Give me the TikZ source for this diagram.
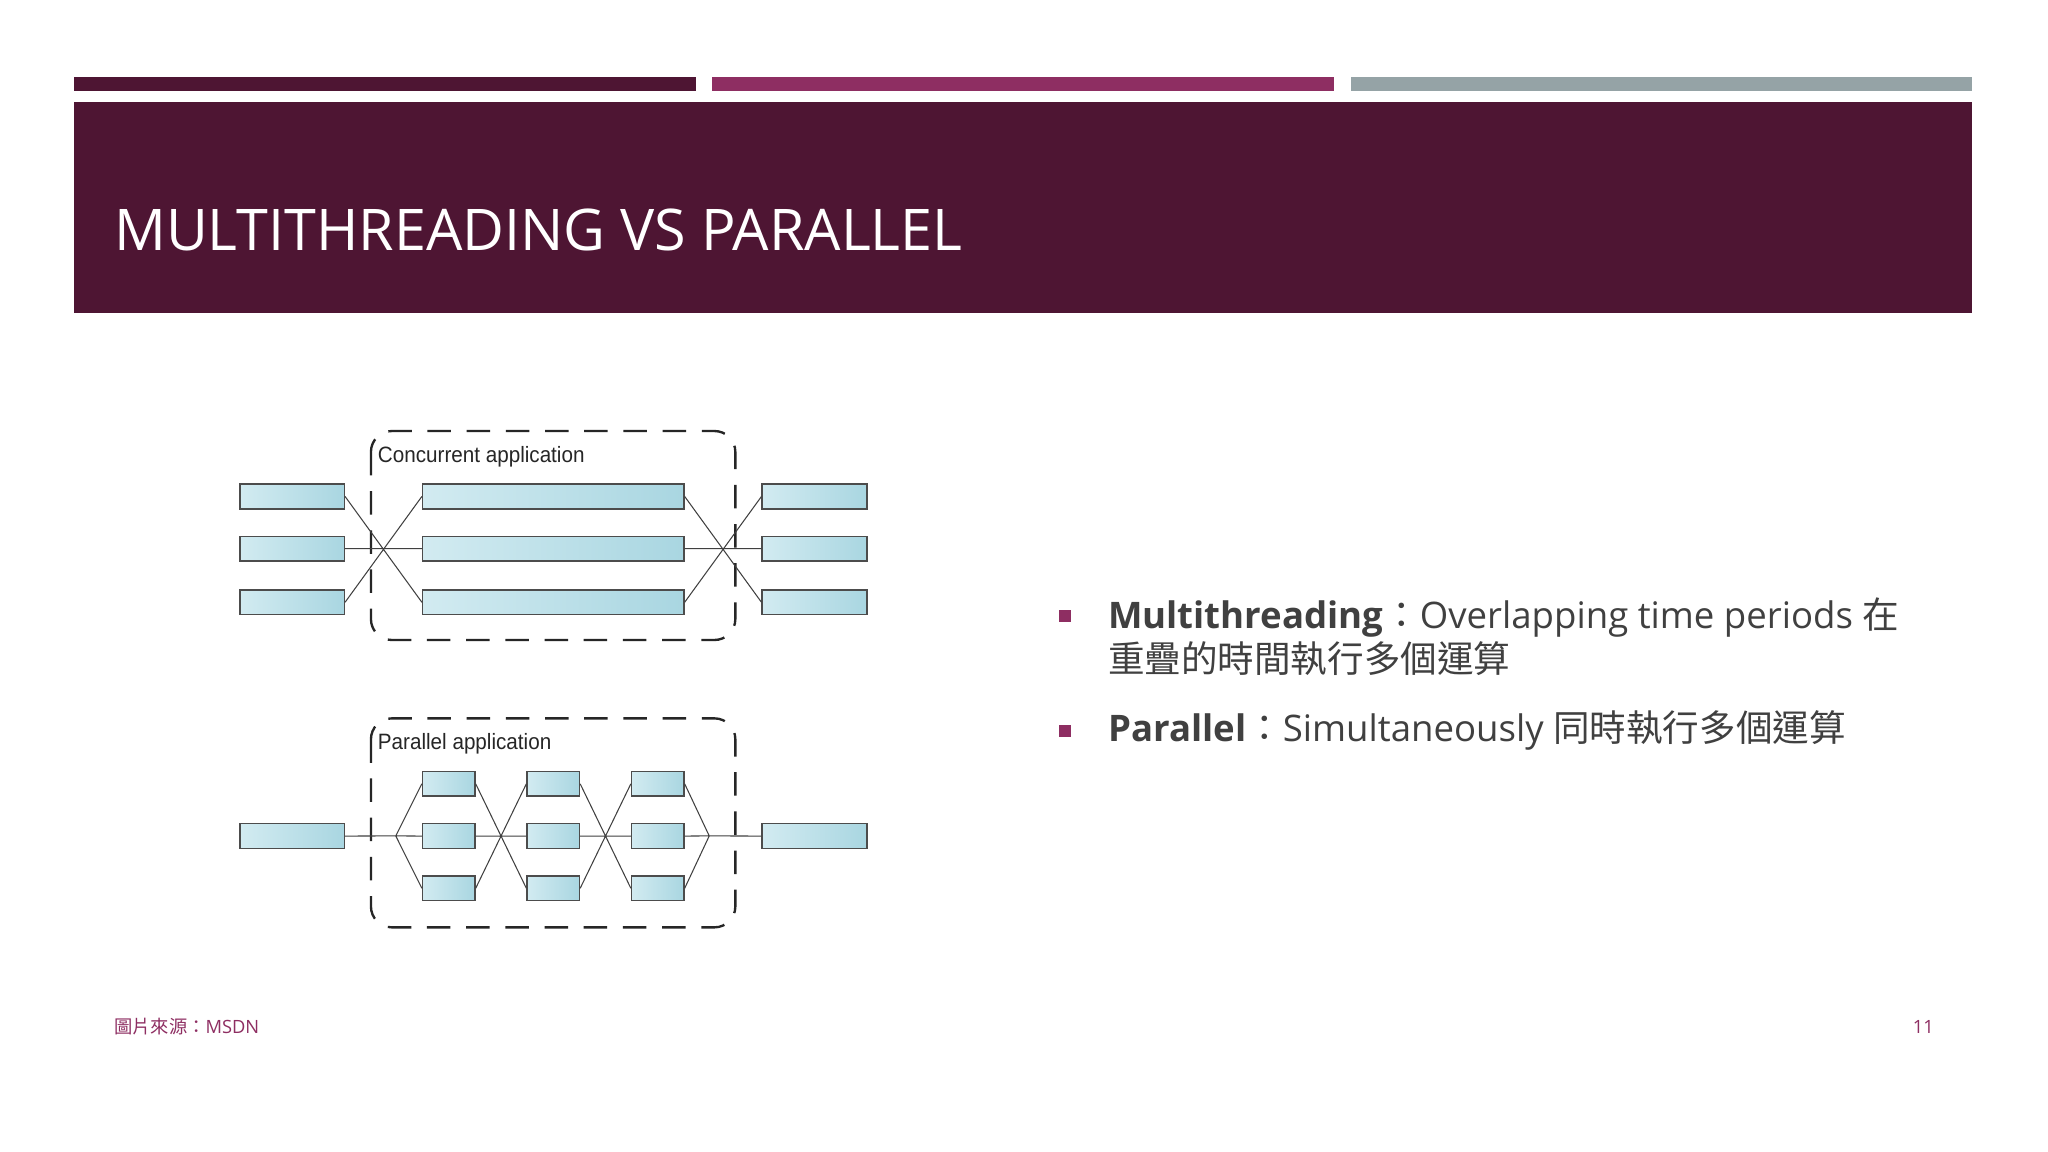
\documentclass[tikz,border=0pt]{standalone}
\usepackage{fontspec}
\setmainfont{Open Sans}
\newfontfamily\cjk{Noto Sans CJK TC}
\newfontfamily\arialf{Liberation Sans}
\definecolor{plum}{HTML}{4E1533}
\definecolor{mag}{HTML}{8E2E62}
\definecolor{grayb}{HTML}{95A3A6}
\definecolor{txt}{HTML}{404040}
\definecolor{bxa}{HTML}{D2EBF1}
\definecolor{bxb}{HTML}{A9D6E1}
\tikzset{
  bx/.style={draw=black!70, line width=0.6pt, left color=bxa, right color=bxb, inner sep=0pt, anchor=north west},
  ln/.style={draw=black!75, line width=0.4pt},
  dbox/.style={draw=black!85, line width=0.9pt, dash pattern=on 9pt off 6pt, rounded corners=8pt},
  lbl/.style={font=\arialf\fontsize{8.5}{10}\selectfont, text=black!85, anchor=base west, inner sep=0pt, xscale=0.93},
  bul/.style={font=\fontsize{14}{17}\selectfont, text=txt, anchor=base west, inner sep=0pt}
}
\begin{document}
\begin{tikzpicture}[x=0.5pt,y=-0.5pt]
\useasboundingbox (0,0) rectangle (1568,882);
\fill[white] (0,0) rectangle (1568,882);
\fill[plum] (57,59) rectangle (533,70);
\fill[mag] (545,59) rectangle (1021,70);
\fill[grayb] (1034,59) rectangle (1510,70);
\fill[plum] (57,78) rectangle (1510,240);
\node[anchor=base west, inner sep=0pt, text=white, font=\fontsize{22}{27}\selectfont] (title) at (87,192) {MULTITHREADING VS PARALLEL};
% concurrent
\draw[dbox] (284,330) rectangle (563,490);
\node[lbl] (cl) at (289,354) {Concurrent application};
\foreach \i/\y in {1/370,2/410,3/451}{
  \node[bx, minimum width=40pt, minimum height=9.5pt] (L\i) at (183,\y) {};
  \node[bx, minimum width=100pt, minimum height=9.5pt] (M\i) at (323,\y) {};
  \node[bx, minimum width=40pt, minimum height=9.5pt] (R\i) at (583,\y) {};
}
\draw[ln] (L1.east)--(M3.west) (L3.east)--(M1.west) (L2.east)--(M2.west);
\draw[ln] (M1.east)--(R3.west) (M3.east)--(R1.west) (M2.east)--(R2.west);
% parallel
\draw[dbox] (284,550) rectangle (563,710);
\node[lbl] (pl) at (289,574) {Parallel application};
\node[bx, minimum width=40pt, minimum height=9.5pt] (PL) at (183,630) {};
\node[bx, minimum width=40pt, minimum height=9.5pt] (PR) at (583,630) {};
\foreach \c/\x in {1/323,2/403,3/483}{
  \foreach \r/\y in {1/590,2/630,3/670}{
    \node[bx, minimum width=20pt, minimum height=9.5pt] (P\c\r) at (\x,\y) {};
  }
}
\coordinate (sp) at (303,640);
\coordinate (mg) at (543,640);
\draw[ln] (PL.east)--(sp) (sp)--(P11.west) (sp)--(P12.west) (sp)--(P13.west);
\draw[ln] (P31.east)--(mg) (P32.east)--(mg) (P33.east)--(mg) (mg)--(PR.west);
\foreach \a/\b in {1/2,2/3}{
  \draw[ln] (P\a1.east)--(P\b3.west) (P\a3.east)--(P\b1.west) (P\a2.east)--(P\b2.west);
}
% bullets
\fill[mag] (811,467) rectangle (820,476);
\fill[mag] (811,555) rectangle (820,564);
\node[bul] (b1) at (848,481) {\textbf{Multithreading}{\cjk ：}Overlapping time periods {\cjk 在}};
\node[bul] (b1b) at (848,515) {\cjk 重疊的時間執行多個運算};
\node[bul] (b2) at (848,568) {\textbf{Parallel}{\cjk ：}Simultaneously {\cjk 同時執行多個運算}};
% footer
\node[anchor=base west, inner sep=0pt, text=mag, font=\fontsize{7}{8}\selectfont] (src) at (87,791) {{\cjk 圖片來源：}MSDN};
\node[anchor=base east, inner sep=0pt, text=mag, font=\fontsize{7}{8}\selectfont] (pg) at (1481,791) {11};
\end{tikzpicture}
\end{document}
